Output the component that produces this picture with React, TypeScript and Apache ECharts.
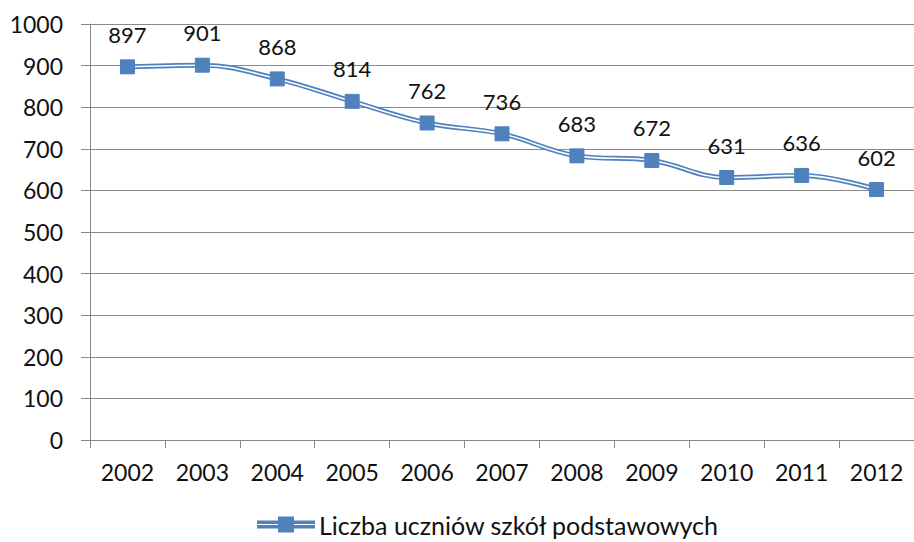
import React, { useEffect, useRef } from "react";
import * as echarts from "echarts";

const categories = ["2002", "2003", "2004", "2005", "2006", "2007", "2008", "2009", "2010", "2011", "2012"];
const values = [897, 901, 868, 814, 762, 736, 683, 672, 631, 636, 602];
const seriesName = "Liczba uczniów szkół podstawowych";

const BLUE = "#4F81BD";
const GREY = "#898989";
const FONT = "Lato";

export default function App() {
  const ref = useRef<HTMLDivElement>(null);
  useEffect(() => {
    if (!ref.current) return;
    const chart = echarts.init(ref.current, null, { renderer: "svg" });
    chart.setOption({
      animation: false,
      textStyle: { fontFamily: FONT },
      grid: { left: 90, top: 24, bottom: 102, right: -8, containLabel: false },
      legend: {
        bottom: 0,
        left: 252,
        itemWidth: 56,
        itemHeight: 14,
        itemGap: 4,
        textStyle: { fontSize: 25, color: "#111", fontFamily: FONT },
        data: [
          {
            name: seriesName,
            icon: "path://M0,4h56v1.6h-56z M0,8.4h56v1.6h-56z M21,0h14v14h-14z",
            itemStyle: { color: BLUE },
          },
        ],
      },
      xAxis: {
        type: "category",
        data: categories,
        boundaryGap: true,
        axisLine: { lineStyle: { color: GREY, width: 1 } },
        axisTick: { show: true, length: 8, lineStyle: { color: GREY } },
        axisLabel: { fontSize: 23, color: "#111", margin: 20, fontFamily: FONT },
        splitLine: { show: false },
      },
      yAxis: {
        type: "value",
        min: 0,
        max: 1000,
        interval: 100,
        axisLine: { show: true, lineStyle: { color: GREY, width: 1 } },
        axisTick: { show: true, length: 9, lineStyle: { color: GREY } },
        axisLabel: {
          fontSize: 23,
          color: "#111",
          margin: 27,
          fontFamily: FONT,
          formatter: (v: number) => String(v),
        },
        splitLine: { show: true, lineStyle: { color: GREY, width: 1 } },
      },
      series: [
        {
          name: "__outer",
          type: "line",
          data: values,
          smooth: 0.4,
          showSymbol: false,
          symbol: "none",
          lineStyle: { color: BLUE, width: 5 },
          z: 2,
          silent: true,
          legendHoverLink: false,
        },
        {
          name: "__inner",
          type: "line",
          data: values,
          smooth: 0.4,
          showSymbol: false,
          symbol: "none",
          lineStyle: { color: "#ffffff", width: 1.6 },
          z: 3,
          silent: true,
          legendHoverLink: false,
        },
        {
          name: seriesName,
          type: "line",
          data: values,
          smooth: 0.4,
          symbol: "rect",
          symbolSize: 14,
          itemStyle: { color: BLUE, borderColor: BLUE, borderWidth: 1 },
          lineStyle: { opacity: 0, width: 0 },
          z: 4,
          label: {
            show: true,
            position: "top",
            distance: 14,
            fontSize: 22,
            color: "#111",
            fontFamily: FONT,
          },
        },
      ],
    });
    return () => chart.dispose();
  }, []);
  return <div ref={ref} style={{ width: 914, height: 542, position: "absolute", left: 0, top: 0 }} />;
}
